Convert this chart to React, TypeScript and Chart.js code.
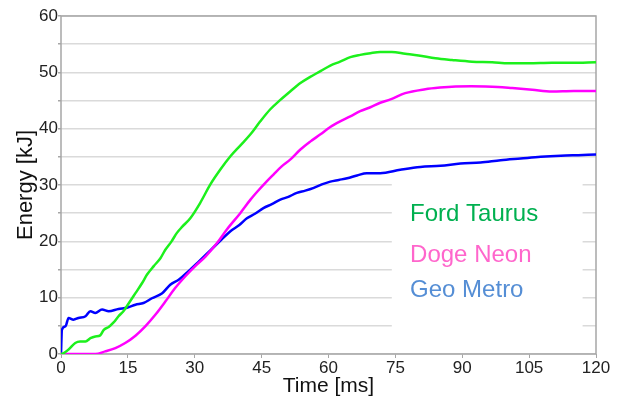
import React, { useEffect, useRef } from "react";
import { Chart, registerables } from "chart.js";

Chart.register(...registerables);

const seriesNames = ["Ford Taurus", "Doge Neon", "Geo Metro"];
const lineColors = ["#1cf01c", "#ff00ff", "#0000ff"];
const legendColors = ["#00b050", "#ff66cc", "#558ed5"];

const xTicks = [0, 15, 30, 45, 60, 75, 90, 105, 120];
const yTicks = [0, 10, 20, 30, 40, 50, 60];

const fordT = [0, 0.5, 1.7, 3.2, 4.3, 5.5, 6.6, 7.7, 8.8, 9.6, 10.7, 11.8, 12.9, 14.0, 15.2, 16.7, 18.2, 19.3, 20.8, 22.3, 23.4, 24.8, 26.0, 27.2, 29.0, 31.2, 33.5, 35.7, 38.0, 40.2, 42.5, 44.7, 46.9, 49.2, 51.4, 53.7, 55.9, 58.2, 60.4, 62.6, 64.9, 67.1, 69.4, 71.6, 74.2, 77.2, 80.2, 84.0, 87.7, 92.2, 96.7, 100.4, 104.9, 110.1, 114.6, 120];
const fordE = [0, 0.1, 0.8, 1.95, 2.2, 2.2, 2.8, 3.1, 3.3, 4.3, 4.8, 5.6, 6.7, 7.6, 9.0, 10.8, 12.6, 14.1, 15.6, 17.0, 18.5, 20.0, 21.5, 22.6, 24.1, 26.8, 30.1, 32.7, 35.1, 37.0, 39.0, 41.3, 43.4, 45.1, 46.6, 48.1, 49.2, 50.2, 51.2, 51.9, 52.7, 53.1, 53.4, 53.6, 53.6, 53.3, 53.0, 52.5, 52.2, 51.9, 51.8, 51.6, 51.6, 51.7, 51.7, 51.8];

const dogeT = [0, 7.7, 9.9, 12.2, 14.4, 16.7, 18.9, 21.2, 23.4, 25.6, 27.9, 30.1, 32.4, 35.0, 37.2, 40.2, 42.5, 44.0, 46.2, 47.7, 49.5, 51.4, 53.7, 55.9, 58.2, 60.4, 62.6, 64.9, 67.1, 69.4, 71.6, 73.9, 77.2, 81.7, 85.0, 88.5, 92.0, 95.2, 98.0, 101.2, 105.7, 110.1, 115.0, 120];
const dogeE = [0, 0, 0.46, 1.06, 1.95, 3.25, 4.9, 7.0, 9.3, 11.7, 13.8, 15.6, 17.3, 19.7, 22.1, 25.0, 27.4, 28.8, 30.7, 31.9, 33.3, 34.5, 36.3, 37.7, 39.0, 40.3, 41.3, 42.2, 43.1, 43.8, 44.6, 45.2, 46.3, 47.0, 47.3, 47.5, 47.55, 47.5, 47.4, 47.2, 46.9, 46.6, 46.7, 46.7];

const geoT = [0, 0.2, 1.0, 1.7, 2.8, 3.9, 5.5, 6.6, 7.7, 9.2, 10.7, 12.9, 14.8, 16.7, 18.5, 20.4, 22.7, 24.5, 26.4, 28.6, 31.0, 33.5, 36.0, 38.0, 40.0, 41.7, 43.5, 45.4, 47.3, 49.2, 51.0, 52.9, 54.8, 56.7, 58.5, 60.4, 62.3, 64.2, 66.4, 68.6, 71.6, 76.1, 80.6, 85.1, 89.6, 94.1, 98.6, 103.1, 107.6, 112.1, 116.0, 120];
const geoE = [0, 4.3, 4.9, 6.4, 6.1, 6.4, 6.7, 7.6, 7.3, 7.9, 7.6, 8.0, 8.2, 8.75, 9.05, 9.9, 10.8, 12.3, 13.2, 14.7, 16.5, 18.4, 20.3, 21.8, 22.9, 24.1, 24.9, 25.9, 26.6, 27.4, 27.9, 28.6, 29.0, 29.5, 30.1, 30.6, 30.9, 31.2, 31.7, 32.1, 32.1, 32.7, 33.2, 33.4, 33.8, 34.0, 34.4, 34.7, 35.0, 35.2, 35.3, 35.4];

const FONT = "'Liberation Sans', Arial, sans-serif";

const toPoints = (t: number[], e: number[]) => t.map((x, i) => ({ x, y: e[i] }));

const framePlugin = {
  id: "frameAndLegend",
  beforeDatasetsDraw(chart: any) {
    const { ctx, chartArea, scales } = chart;
    ctx.save();
    const x0 = scales.x.getPixelForValue(74.2);
    const x1 = scales.x.getPixelForValue(117.0);
    const y0 = scales.y.getPixelForValue(33.8);
    const y1 = scales.y.getPixelForValue(2.5);
    ctx.fillStyle = "#ffffff";
    ctx.fillRect(x0, y0, x1 - x0, y1 - y0);
    ctx.strokeStyle = "#a6a6a6";
    ctx.lineWidth = 1.5;
    ctx.strokeRect(chartArea.left, chartArea.top, chartArea.right - chartArea.left, chartArea.bottom - chartArea.top);
    ctx.restore();
  },
  afterDatasetsDraw(chart: any) {
    const { ctx, scales } = chart;
    ctx.save();
    ctx.font = `24px ${FONT}`;
    ctx.textBaseline = "alphabetic";
    ctx.textAlign = "left";
    const lx = scales.x.getPixelForValue(78.3);
    const baselines = [23.6, 16.3, 10.1];
    seriesNames.forEach((name, i) => {
      ctx.fillStyle = legendColors[i];
      ctx.fillText(name, lx, scales.y.getPixelForValue(baselines[i]));
    });
    ctx.restore();
  },
};

export default function App() {
  const ref = useRef<HTMLCanvasElement | null>(null);
  useEffect(() => {
    if (!ref.current) return;
    const series = [toPoints(fordT, fordE), toPoints(dogeT, dogeE), toPoints(geoT, geoE)];
    const chart = new Chart(ref.current, {
      type: "line",
      data: {
        datasets: series.map((data, i) => ({
          label: seriesNames[i],
          data,
          borderColor: lineColors[i],
          backgroundColor: lineColors[i],
          borderWidth: 2.5,
          pointRadius: 0,
          cubicInterpolationMode: "monotone" as const,
          fill: false,
        })),
      },
      options: {
        animation: false,
        responsive: true,
        maintainAspectRatio: false,
        layout: { padding: { top: 16, right: 29, bottom: 0, left: 0 } },
        plugins: { legend: { display: false }, tooltip: { enabled: false } },
        scales: {
          x: {
            type: "linear",
            min: 0,
            max: 120,
            afterFit: (s: any) => { s.height = 47; },
            afterBuildTicks: (s: any) => { s.ticks = xTicks.map((v) => ({ value: v })); },
            grid: { display: true, drawOnChartArea: false, drawTicks: true, tickLength: 4, tickColor: "#a6a6a6", color: "#a6a6a6" },
            border: { display: false },
            ticks: { color: "#222", font: { family: FONT, size: 17 }, padding: 0, maxRotation: 0 },
            title: { display: true, text: "Time [ms]", color: "#111", font: { family: FONT, size: 21 }, padding: { top: 0, bottom: 2 } },
          },
          y: {
            type: "linear",
            min: 0,
            max: 60,
            afterFit: (s: any) => { s.width = 61; },
            ticks: {
              stepSize: 5,
              color: "#222",
              font: { family: FONT, size: 17 },
              padding: 0,
              callback: (v: any) => (yTicks.includes(Number(v)) ? String(v) : ""),
            },
            grid: { color: "#dadada", lineWidth: 1.5, tickLength: 3, tickColor: "#a6a6a6" },
            border: { display: false },
            title: { display: true, text: "Energy [kJ]", color: "#111", font: { family: FONT, size: 22 }, padding: { top: 13, bottom: 0 } },
          },
        },
      },
      plugins: [framePlugin],
    });
    return () => chart.destroy();
  }, []);
  return (
    <div style={{ position: "absolute", left: 0, top: 0, width: 625, height: 401, background: "#fff" }}>
      <canvas ref={ref} />
    </div>
  );
}
